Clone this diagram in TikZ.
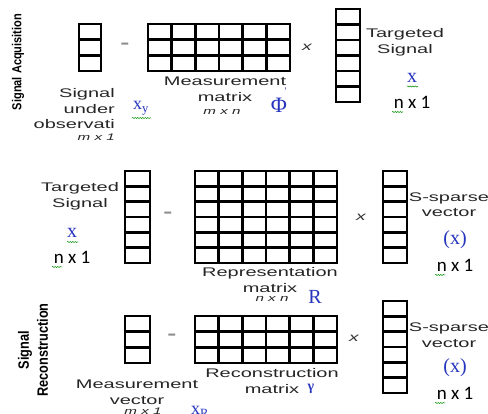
\documentclass[tikz,border=0pt]{standalone}
\usepackage{fontspec}
\setmainfont{Liberation Sans}
\newfontfamily\lblfont[FakeStretch=1.6]{Liberation Sans}
\newfontfamily\narrowfont[FakeStretch=0.85]{Liberation Sans}
\newfontfamily\serffont{Liberation Serif}
\newfontfamily\carlfont{Carlito}
\usetikzlibrary{decorations.pathmorphing}
\definecolor{symblue}{RGB}{38,52,190}
% grid: corner coordinate, width, height, columns, rows
\newcommand\mgrid[5]{%
  \foreach \k in {0,...,#4} {\draw[gridline, shift={(#1)}] ({#2*\k/#4},0) -- ({#2*\k/#4},#3);}
  \foreach \k in {0,...,#5} {\draw[gridline, shift={(#1)}] (0,{#3*\k/#5}) -- (#2,{#3*\k/#5});}
  \draw[gridline, shift={(#1)}] (0,0) rectangle (#2,#3);
}
\begin{document}
\begin{tikzpicture}[x=1pt,y=-1pt,
  gridline/.style={line width=2.6pt, black, line join=miter, line cap=rect},
  lab/.style={font=\fontsize{12.5}{15.5}\selectfont\lblfont, text=black!85, align=center, inner sep=0pt},
  dims/.style={font=\fontsize{9.5}{11}\selectfont\lblfont\itshape, text=black!85, inner sep=0pt},
  sym/.style={font=\fontsize{20}{22}\selectfont\serffont, text=symblue, inner sep=0pt},
  sizes/.style={font=\fontsize{19}{22}\selectfont\carlfont, text=black, inner sep=0pt},
  eqs/.style={font=\fontsize{17}{18}\selectfont\lblfont\bfseries, text=black!45, inner sep=0pt},
  timesop/.style={font=\fontsize{12}{14}\selectfont\lblfont\itshape, text=black!80, inner sep=0pt},
  side/.style={rotate=90, align=center, inner sep=0pt, text=black},
  squig/.style={green!55!black, line width=0.5pt, decorate, decoration={snake, amplitude=0.6pt, segment length=2.5pt}}
]
\useasboundingbox (0,0) rectangle (488,414);
\fill[white] (0,0) rectangle (488,414);

% ---------- Signal acquisition ----------
\node[side, font=\fontsize{13}{15}\selectfont\narrowfont\bfseries] (acq) at (18,62) {Signal Acquisition};

\coordinate (vA) at (79,24);
\mgrid{vA}{22}{47}{1}{3}
\node[eqs] (eqA) at (125,46) {-};
\coordinate (mA) at (148,24);
\mgrid{mA}{142}{47}{6}{3}
\node[timesop] (tA) at (307,47) {x};
\coordinate (vB) at (336,9);
\mgrid{vB}{24}{93}{1}{6}

\node[lab] (tsA) at (405,42.5) {Targeted\\Signal};
\node[sym] (xA) at (412,78) {x};
\node[sizes] (nA) at (412,102) {n x 1};
\draw[squig] (407,86.5) -- (418,86.5);
\node[lab, align=right, anchor=east] (obs) at (115,109) {Signal\\under\\observati};
\node[dims, anchor=east] (mA1) at (115,137) {m x 1};
\node[sym, font=\fontsize{18}{18}\selectfont\serffont] (xy) at (141,108) {x\textsubscript{y}};
\draw[squig] (132,118) -- (151,118);
\node[lab] (mmA) at (225,89.5) {Measurement\\matrix};
\node[dims] (mnA) at (222,112) {m x n};
\node[sym, font=\fontsize{22}{22}\selectfont\serffont] (phi) at (279,105) {Φ};
\node[sym, font=\fontsize{10}{11}\selectfont\serffont] (phip) at (285.5,91) {'};
\draw[squig] (392,112) -- (403,112);

% ---------- Representation ----------
\node[lab] (tsB) at (80,196.5) {Targeted\\Signal};
\node[sym] (xB) at (72,233) {x};
\draw[squig] (67,242) -- (78,242);
\node[sizes] (nB) at (72,257) {n x 1};
\draw[squig] (52,267) -- (62,267);
\coordinate (vC) at (125,171);
\mgrid{vC}{25}{92}{1}{6}
\node[eqs] (eqB) at (168,215) {-};
\coordinate (mB) at (195,171);
\mgrid{mB}{142}{92}{6}{6}
\node[timesop] (tB) at (361,217) {x};
\coordinate (vD) at (383,171);
\mgrid{vD}{24}{92}{1}{6}
\node[lab] (ssB) at (449,204.5) {S-sparse\\vector};
\node[sym] (sxB) at (455,240) {(x)};
\node[sizes] (nC) at (455,265) {n x 1};
\draw[squig] (435,275) -- (445,275);
\node[lab] (rmB) at (270,280) {Representation\\matrix};
\node[dims] (nnB) at (272,299) {n x n};
\node[sym] (R) at (315,297) {R};

% ---------- Reconstruction ----------
\node[side, font=\fontsize{15}{19}\selectfont\narrowfont\bfseries] (rec) at (33,350) {Signal\\Reconstruction};
\coordinate (vE) at (125,316);
\mgrid{vE}{25}{47}{1}{3}
\node[eqs] (eqC) at (172,337) {-};
\coordinate (mC) at (195,316);
\mgrid{mC}{142}{47}{6}{3}
\node[timesop] (tC) at (354,338) {x};
\coordinate (vF) at (383,301);
\mgrid{vF}{24}{92}{1}{6}
\node[lab] (ssC) at (449,335) {S-sparse\\vector};
\node[sym] (sxC) at (455,368) {(x)};
\node[sizes] (nD) at (455,393) {n x 1};
\draw[squig] (435,403) -- (445,403);
\node[lab] (mvC) at (137,392.5) {Measurement\\vector};
\node[dims] (m1C) at (143,411) {m x 1};
\node[sym, font=\fontsize{18}{18}\selectfont\serffont] (xR) at (200,412) {x\textsubscript{R}};
\node[lab] (rcC) at (272,381) {Reconstruction\\matrix};
\node[sym, font=\fontsize{14}{15}\selectfont\serffont\bfseries] (gam) at (311,389) {γ};
\end{tikzpicture}
\end{document}
